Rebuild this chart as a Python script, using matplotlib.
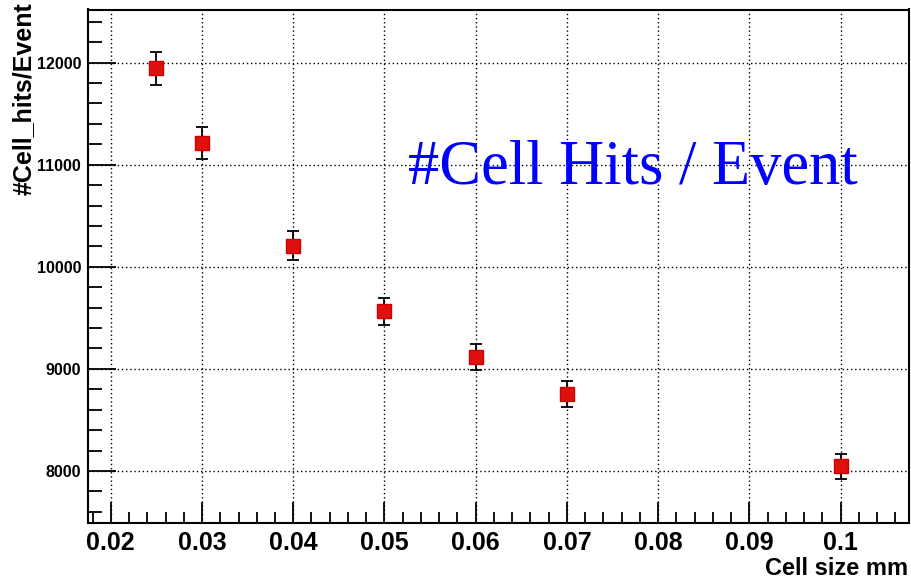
import numpy as np
import matplotlib.pyplot as plt
from matplotlib.ticker import MultipleLocator

# cell size scan: mean number of hit cells per event
cell_size = [0.025, 0.03, 0.04, 0.05, 0.06, 0.07, 0.1]
hits = [11945, 11210, 10208, 9563, 9115, 8755, 8045]
hits_err = [160, 158, 145, 134, 127, 125, 120]

W, H = 912, 579
fig = plt.figure(figsize=(W / 100, H / 100), dpi=100)
ax = fig.add_axes([88 / W, 1 - 523 / H, (909 - 88) / W, (523 - 9.5) / H])

ax.errorbar(cell_size, hits, yerr=hits_err, fmt='s', color='#e01010', ms=10,
            mec='#d00000', ecolor='black', elinewidth=1.3, capsize=4, capthick=1.3,
            zorder=3)

ax.xaxis.set_major_locator(MultipleLocator(0.01))
ax.xaxis.set_minor_locator(MultipleLocator(0.002))
ax.yaxis.set_major_locator(MultipleLocator(1000))
ax.yaxis.set_minor_locator(MultipleLocator(200))
ax.set_xlim(0.0175, 0.1075)
ax.set_ylim(7490, 12520)
ax.xaxis.set_major_formatter(lambda v, pos: '%g' % round(v, 3))

ax.tick_params(which='both', direction='in', top=False, right=False, width=1.3)
ax.tick_params(axis='x', which='major', length=15, pad=6, labelsize=18)
ax.tick_params(axis='x', which='minor', length=8)
ax.tick_params(axis='y', which='major', length=20, pad=5, labelsize=11.5)
ax.tick_params(axis='y', which='minor', length=10)
for lab in ax.get_xticklabels() + ax.get_yticklabels():
    lab.set_fontweight('bold')
    lab.set_family('Liberation Sans')

ax.grid(True, which='major', color='black', linestyle=(0, (1, 2)), linewidth=1.0)
for s in ax.spines.values():
    s.set_linewidth(1.5)

fig.text(908 / W, 4 / H, 'Cell size mm', ha='right', va='baseline',
         fontsize=17, fontweight='bold', family='Liberation Sans')
fig.text(24 / W, 1 - 2 / H, '#Cell_hits/Event', rotation=90, ha='center', va='top',
         fontsize=18, fontweight='bold', family='Liberation Sans')

fig.text(408 / W, 1 - 184 / H, '#Cell Hits / Event', ha='left', va='baseline',
         fontsize=45, color='#0000ff', family='Liberation Serif')

fig.savefig('out.png', dpi=100)
